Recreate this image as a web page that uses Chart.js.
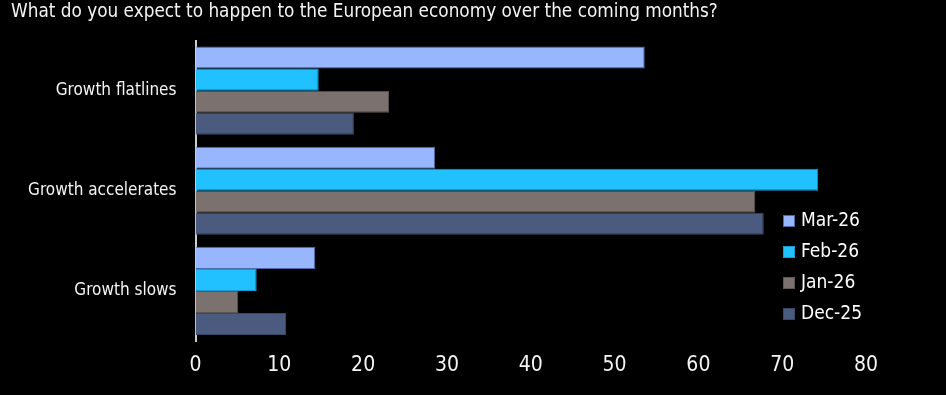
<!DOCTYPE html>
<html>
<head>
<meta charset="utf-8">
<script src="https://cdn.jsdelivr.net/npm/chart.js@4/dist/chart.umd.min.js"></script>
<style>
html,body{margin:0;padding:0;background:#000;}
#wrap{position:relative;width:946px;height:395px;}
</style>
</head>
<body>
<div id="wrap"><canvas id="c" width="946" height="395"></canvas></div>
<script>
const titleText = 'What do you expect to happen to the European economy over the coming months?';
const categories = ['Growth flatlines', 'Growth accelerates', 'Growth slows'];
const seriesNames = ['Mar-26', 'Feb-26', 'Jan-26', 'Dec-25'];
const mar26 = [53.6, 28.6, 14.3];
const feb26 = [14.7, 74.3, 7.3];
const jan26 = [23.1, 66.8, 5.1];
const dec25 = [18.9, 67.8, 10.8];
const xTicks = [0, 10, 20, 30, 40, 50, 60, 70, 80];

const FONT = '"Liberation Sans Narrow", "DejaVu Sans Condensed", "Roboto Condensed", "Liberation Sans", sans-serif';
const fills = ['#97b6fe', '#21c0fe', '#7b716f', '#4b5b7f'];
const borders = ['#4a6aa8', '#1a9ad0', '#5e5654', '#3a4866'];

const legendPlugin = {
  id: 'insideLegend',
  afterDraw(chart) {
    const ctx = chart.ctx;
    ctx.save();
    ctx.font = '19px ' + FONT;
    ctx.textBaseline = 'middle';
    ctx.textAlign = 'left';
    chart.data.datasets.forEach((ds, i) => {
      const y = 221 + i * 31;
      ctx.fillStyle = ds.backgroundColor;
      ctx.fillRect(783, y - 6, 12, 12);
      ctx.strokeStyle = ds.borderColor;
      ctx.lineWidth = 1;
      ctx.strokeRect(783.5, y - 5.5, 11, 11);
      ctx.fillStyle = '#ffffff';
      ctx.fillText(ds.label, 801, y);
    });
    ctx.restore();
  }
};

const datasets = [mar26, feb26, jan26, dec25].map((d, i) => ({
  label: seriesNames[i],
  data: d,
  backgroundColor: fills[i],
  borderColor: borders[i],
  borderWidth: 1,
  categoryPercentage: 0.88,
  barPercentage: 1.0
}));

new Chart(document.getElementById('c'), {
  type: 'bar',
  data: { labels: categories, datasets },
  plugins: [legendPlugin],
  options: {
    indexAxis: 'y',
    responsive: false,
    animation: false,
    devicePixelRatio: 1,
    layout: { padding: { left: 11, right: 80, top: 0, bottom: 0 } },
    plugins: {
      legend: { display: false },
      tooltip: { enabled: false },
      title: {
        display: true,
        text: titleText,
        align: 'start',
        color: '#f4f4f4',
        font: { family: FONT, size: 18.8, weight: 'normal' },
        padding: { top: 1, bottom: 17 }
      }
    },
    scales: {
      x: {
        min: 0, max: 80,
        afterBuildTicks(scale) { scale.ticks = xTicks.map(v => ({ value: v })); },
        afterFit(scale) { scale.height = 54; },
        grid: { display: false, drawTicks: false },
        border: { display: false },
        ticks: { color: '#f4f4f4', font: { family: FONT, size: 21 }, padding: 12 }
      },
      y: {
        afterFit(scale) { scale.width = 184.5; },
        grid: { display: false, drawTicks: false },
        border: { display: true, color: '#cfcfcf', width: 2 },
        ticks: { color: '#f4f4f4', font: { family: FONT, size: 17 }, padding: 19 }
      }
    }
  }
});
</script>
</body>
</html>
